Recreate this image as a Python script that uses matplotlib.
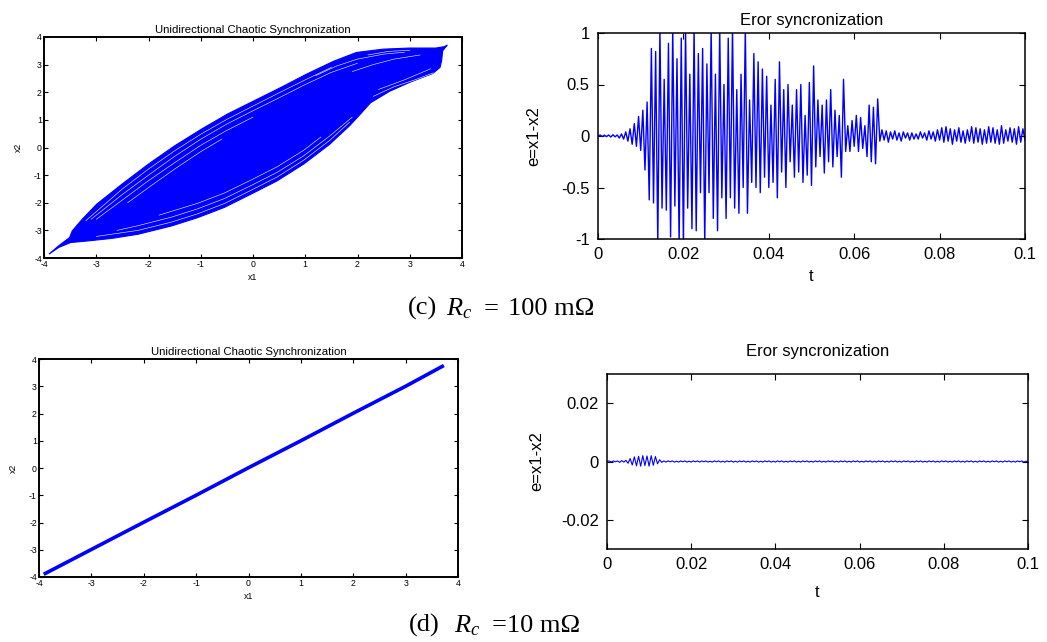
import numpy as np
import matplotlib
matplotlib.use("Agg")
import matplotlib.pyplot as plt

plt.rcParams['font.family'] = ['Liberation Sans', 'DejaVu Sans']
plt.rcParams['mathtext.fontset'] = 'custom'
plt.rcParams['mathtext.rm'] = 'Liberation Serif'
plt.rcParams['mathtext.it'] = 'Liberation Serif:italic'
plt.rcParams['axes.unicode_minus'] = False

BLUE = '#0000ff'

# ---------------- data ----------------
# (c) phase portrait: envelope of the dense x1-x2 trajectory band
upper_x1 = [-3.905, -3.72, -3.51, -3.46, -3.27, -2.99, -2.51, -2.0, -1.5, -0.99, -0.49, 0.02, 0.53, 1.03, 1.54, 1.98, 2.49, 3.0, 3.5, 3.66, 3.72]
upper_x2 = [-3.86, -3.56, -3.26, -3.02, -2.6, -2.05, -1.33, -0.6, 0.06, 0.66, 1.21, 1.69, 2.17, 2.66, 3.12, 3.44, 3.56, 3.6, 3.6, 3.65, 3.71]
lower_x1 = [-3.905, -3.72, -3.49, -3.15, -2.7, -2.2, -1.56, -1.06, -0.55, -0.04, 0.46, 0.97, 1.47, 1.85, 2.05, 2.25, 2.61, 3.0, 3.44, 3.58, 3.61, 3.63, 3.72]
lower_x2 = [-3.86, -3.62, -3.44, -3.38, -3.29, -3.14, -2.84, -2.54, -2.17, -1.69, -1.21, -0.6, 0.12, 0.79, 1.2, 1.62, 2.03, 2.36, 2.68, 2.9, 3.14, 3.5, 3.71]

# gaps between trajectory loops (white striations)
gap_curves = [
    ([-3.2, -2.5, -2.0, -1.5, -1.0, -0.5, 0.0, 0.5, 1.0, 1.5], [-2.65, -1.5, -0.78, -0.12, 0.48, 1.02, 1.5, 1.98, 2.45, 2.9]),
    ([-3.1, -2.5, -2.0, -1.5, -1.0, -0.5, 0.0, 0.5, 1.0, 1.5, 2.0], [-2.6, -1.7, -1.0, -0.32, 0.3, 0.85, 1.33, 1.8, 2.28, 2.72, 3.05]),
    ([-3.0, -2.5, -2.0, -1.5, -1.0, -0.5, 0.0], [-2.6, -1.9, -1.2, -0.55, 0.08, 0.62, 1.1]),
    ([-2.4, -2.0, -1.5, -1.0, -0.6], [-2.0, -1.45, -0.78, -0.15, 0.3]),
    ([1.2, 1.6, 2.0, 2.5, 2.9], [2.6, 2.95, 3.2, 3.38, 3.45]),
    ([1.9, 2.3, 2.7, 3.2], [2.75, 3.0, 3.2, 3.35]),
    ([2.2, 2.6, 3.0], [3.35, 3.48, 3.52]),
    ([-3.0, -2.2, -1.56, -1.06, -0.55, -0.04, 0.46, 0.97, 1.47, 1.85], [-3.22, -3.0, -2.7, -2.4, -2.03, -1.55, -1.07, -0.46, 0.26, 0.92]),
    ([-2.6, -2.2, -1.56, -1.06, -0.55, -0.04, 0.46, 0.97, 1.47, 1.9], [-3.0, -2.83, -2.52, -2.22, -1.85, -1.38, -0.9, -0.3, 0.42, 1.1]),
    ([-1.8, -1.06, -0.55, -0.04, 0.46, 0.97, 1.3], [-2.45, -2.02, -1.65, -1.18, -0.7, -0.1, 0.38]),
    ([2.3, 2.7, 3.1, 3.45], [1.85, 2.2, 2.45, 2.7]),
    ([2.4, 2.9, 3.4], [2.1, 2.45, 2.85]),
]

# (c) error e = x1 - x2, sampled every 0.5 ms from t = 0 to 0.1 s
e_c = [
    0.0, 0.01, -0.005, 0.008, -0.006, 0.01, -0.01, 0.012, -0.008, 0.01,
    -0.02, 0.02, -0.03, 0.04, -0.05, 0.07, -0.08, 0.12, -0.1, 0.19,
    -0.14, 0.25, -0.33, 0.33, -0.62, 0.85, -0.65, 0.82, -1.05, 1.05,
    -0.7, 0.55, -0.72, 0.9, -0.98, 1.05, -0.68, 0.75, -1.05, 0.95,
    -1.05, 1.05, -0.7, 0.6, -0.9, 1.05, -0.92, 0.8, -0.55, 0.85,
    -1.05, 0.7, -0.55, 1.05, -0.8, 0.6, -0.92, 1.05, -0.6, 0.5,
    -0.8, 0.95, -0.6, 1.05, -0.7, 0.45, -0.75, 0.6, -0.5, 1.05,
    -0.75, 0.35, -0.45, 0.8, -0.5, 0.72, -0.55, 0.65, -0.4, 0.58,
    -0.5, 0.3, -0.45, 0.55, -0.6, 0.72, -0.35, 0.45, -0.5, 0.5,
    -0.25, 0.3, -0.4, 0.45, -0.35, 0.5, -0.45, 0.2, -0.38, 0.52,
    -0.48, 0.68, -0.3, 0.35, -0.2, 0.3, -0.36, 0.35, -0.25, 0.45,
    -0.3, 0.25, -0.2, 0.2, -0.4, 0.55, -0.15, 0.1, -0.15, 0.15,
    -0.1, 0.2, -0.15, 0.18, -0.12, 0.1, -0.2, 0.3, -0.25, 0.28,
    -0.27, 0.36, -0.05, 0.06, -0.04, 0.05, -0.06, 0.04, -0.03, 0.05,
    -0.04, 0.03, -0.05, 0.04, -0.02, 0.03, -0.04, 0.03, -0.03, 0.02,
    -0.03, 0.04, -0.02, 0.03, -0.04, 0.05, -0.03, 0.04, -0.05, 0.06,
    -0.04, 0.08, -0.06, 0.09, -0.05, 0.07, -0.08, 0.06, -0.05, 0.08,
    -0.06, 0.05, -0.07, 0.06, -0.05, 0.09, -0.07, 0.08, -0.06, 0.07,
    -0.08, 0.06, -0.07, 0.09, -0.06, 0.08, -0.07, 0.06, -0.08, 0.1,
    -0.07, 0.06, -0.05, 0.08, -0.06, 0.07, -0.08, 0.09, -0.06, 0.07,
    -0.04,
]

# (d) phase portrait: trajectory on the synchronization line
x1_d = [-3.88, -3.0, -2.0, -1.0, 0.0, 1.0, 2.0, 3.0, 3.7]
x2_d = [-3.87, -2.99, -1.99, -1.0, 0.01, 1.0, 2.01, 3.0, 3.73]

# (d) error e = x1 - x2, sampled every 0.5 ms from t = 0 to 0.1 s
e_d = [
    0.0, 0.0002, -0.0002, 0.0002, -0.0001, 0.0002, -0.0003, 0.0003, -0.0002, 0.0004,
    -0.0006, 0.001, -0.0012, 0.0016, -0.0015, 0.0018, -0.0016, 0.002, -0.0014, 0.0019,
    -0.0016, 0.002, -0.0013, 0.0017, -0.0008, 0.0006, -0.0003, 0.0002, -0.0002, 0.0002,
    -0.0001, 0.0002, -0.0002, 0.0001, -0.0002, 0.0002, -0.0001, 0.0002, -0.0002, 0.0001,
    -0.0002, 0.0002, -0.0001, 0.0002, -0.0002, 0.0002, -0.0001, 0.0002, -0.0002, 0.0001,
    -0.0002, 0.0002, -0.0001, 0.0002, -0.0002, 0.0001, -0.0002, 0.0002, -0.0001, 0.0002,
    -0.0002, 0.0001, -0.0002, 0.0002, -0.0001, 0.0002, -0.0002, 0.0001, -0.0002, 0.0002,
    -0.0001, 0.0002, -0.0002, 0.0001, -0.0002, 0.0002, -0.0001, 0.0002, -0.0002, 0.0001,
    -0.0002, 0.0002, -0.0001, 0.0002, -0.0002, 0.0001, -0.0002, 0.0002, -0.0001, 0.0002,
    -0.0002, 0.0001, -0.0002, 0.0002, -0.0001, 0.0002, -0.0002, 0.0001, -0.0002, 0.0002,
    -0.0001, 0.0002, -0.0002, 0.0001, -0.0002, 0.0002, -0.0001, 0.0002, -0.0002, 0.0001,
    -0.0002, 0.0002, -0.0001, 0.0002, -0.0002, 0.0001, -0.0002, 0.0002, -0.0001, 0.0002,
    -0.0002, 0.0001, -0.0002, 0.0002, -0.0001, 0.0002, -0.0002, 0.0001, -0.0002, 0.0002,
    -0.0001, 0.0002, -0.0002, 0.0001, -0.0002, 0.0002, -0.0001, 0.0002, -0.0002, 0.0001,
    -0.0002, 0.0002, -0.0001, 0.0002, -0.0002, 0.0001, -0.0002, 0.0002, -0.0001, 0.0002,
    -0.0002, 0.0001, -0.0002, 0.0002, -0.0001, 0.0002, -0.0002, 0.0001, -0.0002, 0.0002,
    -0.0001, 0.0002, -0.0002, 0.0001, -0.0002, 0.0002, -0.0001, 0.0002, -0.0002, 0.0001,
    -0.0002, 0.0002, -0.0001, 0.0002, -0.0002, 0.0001, -0.0002, 0.0002, -0.0001, 0.0002,
    -0.0002, 0.0001, -0.0002, 0.0002, -0.0001, 0.0002, -0.0002, 0.0001, -0.0002, 0.0002,
    -0.0001, 0.0002, -0.0002, 0.0001, -0.0002, 0.0002, -0.0001, 0.0002, -0.0002, 0.0001,
    0.0,
]

t_step = 0.0005
phase_ticks = [-4, -3, -2, -1, 0, 1, 2, 3, 4]
t_ticks = [0, 0.02, 0.04, 0.06, 0.08, 0.1]
t_labels = ['0', '0.02', '0.04', '0.06', '0.08', '0.1']
ec_ticks = [-1, -0.5, 0, 0.5, 1]
ec_labels = ['-1', '-0.5', '0', '0.5', '1']
ed_ticks = [-0.02, 0, 0.02]
ed_labels = ['-0.02', '0', '0.02']

phase_title = 'Unidirectional Chaotic Synchronization'
err_title = 'Eror syncronization'

# ---------------- figure ----------------
W, H = 1047, 642
fig = plt.figure(figsize=(W / 100, H / 100), dpi=100)


def box(x0, y0, x1, y1):
    return [x0 / W, 1 - y1 / H, (x1 - x0) / W, (y1 - y0) / H]


def style_phase(ax):
    ax.set_xlim(-4, 4)
    ax.set_ylim(-4, 4)
    ax.set_xticks(phase_ticks)
    ax.set_yticks(phase_ticks)
    ax.tick_params(direction='in', top=True, right=True, length=3, width=0.8,
                   labelsize=6.3, pad=1.5)
    for s in ax.spines.values():
        s.set_linewidth(1.4)
    ax.set_title(phase_title, fontsize=8.2, pad=3)
    ax.set_xlabel('x1', fontsize=6.3, labelpad=3)
    ax.set_ylabel('x2', fontsize=6.3, labelpad=8)


def style_err(ax, title_pad, ylab_pad, xlab_pad):
    ax.set_xlim(0, 0.1)
    ax.set_xticks(t_ticks)
    ax.set_xticklabels(t_labels)
    ax.tick_params(direction='in', top=True, right=True, length=4, width=0.8,
                   labelsize=12, pad=6)
    for s in ax.spines.values():
        s.set_linewidth(1.1)
    ax.set_title(err_title, fontsize=12, pad=title_pad)
    ax.set_xlabel('t', fontsize=12, labelpad=xlab_pad)
    ax.set_ylabel('e=x1-x2', fontsize=12, labelpad=ylab_pad)


# (c) left
ax1 = fig.add_axes(box(44, 37, 462, 258))
poly_x = upper_x1 + lower_x1[::-1]
poly_y = upper_x2 + lower_x2[::-1]
ax1.fill(poly_x, poly_y, color=BLUE, lw=0.8, ec=BLUE)
for gx, gy in gap_curves:
    ax1.plot(gx, gy, color='white', lw=0.45, alpha=0.9, solid_capstyle='round')
style_phase(ax1)

# (c) right
ax2 = fig.add_axes(box(598, 33, 1025, 239))
t_c = np.arange(len(e_c)) * t_step
ax2.plot(t_c, e_c, color=BLUE, lw=1.0)
ax2.set_ylim(-1, 1)
ax2.set_yticks(ec_ticks)
ax2.set_yticklabels(ec_labels)
style_err(ax2, 6, 14, 5)

# (d) left
ax3 = fig.add_axes(box(39, 359, 458, 577))
ax3.plot(x1_d, x2_d, color=BLUE, lw=2.6)
style_phase(ax3)

# (d) right
ax4 = fig.add_axes(box(607, 374, 1028, 549))
t_d = np.arange(len(e_d)) * t_step
ax4.plot(t_d, e_d, color=BLUE, lw=0.8)
ax4.set_ylim(-0.03, 0.03)
ax4.set_yticks(ed_ticks)
ax4.set_yticklabels(ed_labels)
style_err(ax4, 13, 12, 9)

# captions
cap_kw = dict(fontsize=19, family='Liberation Serif', ha='left', va='baseline')
cap_c = [('(c)', 408), ('$R_c$', 446), ('=', 484), ('100 m\u03a9', 508)]
cap_d = [('(d)', 409), ('$R_c$', 454), ('=10 m\u03a9', 492)]
for txt, x in cap_c:
    fig.text(x / W, 1 - 315 / H, txt, **cap_kw)
for txt, x in cap_d:
    fig.text(x / W, 1 - 632 / H, txt, **cap_kw)

fig.savefig('out.png', dpi=100)
